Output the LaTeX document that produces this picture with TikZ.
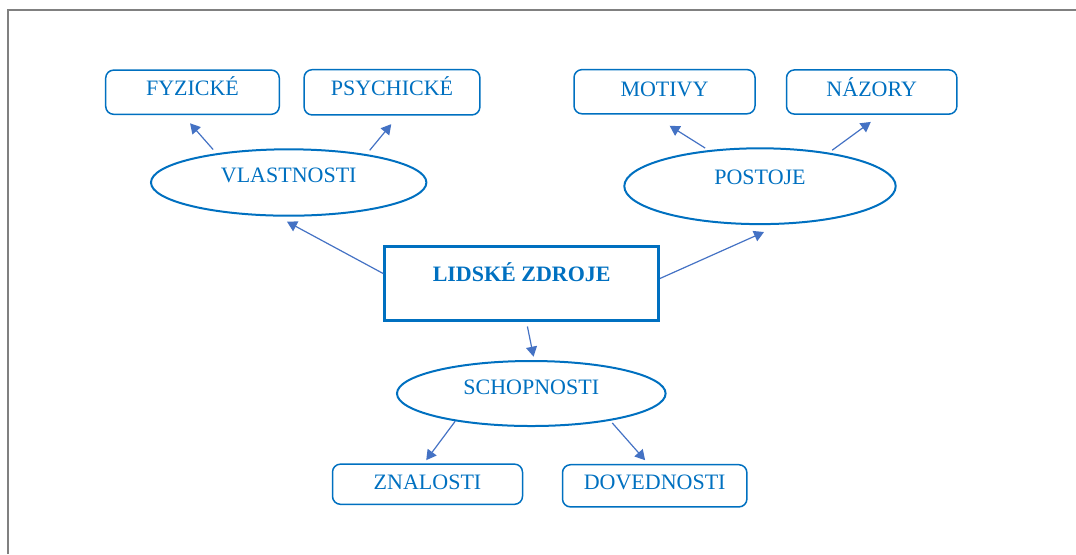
\documentclass[tikz,border=0pt]{standalone}
\usepackage{fontspec}
\setmainfont{Liberation Serif}
\usepackage{tikz}
\usetikzlibrary{arrows.meta,shapes}
\definecolor{zdrojblue}{RGB}{0,112,192}
\definecolor{arrowblue}{RGB}{68,114,196}
\definecolor{framegray}{RGB}{128,128,128}
\tikzstyle{box}=[rectangle,rounded corners=4pt,draw=zdrojblue,line width=0.75pt,text=zdrojblue,inner sep=0pt,text height=7.3pt,font=\fontsize{11}{13}\selectfont]
\tikzstyle{oval}=[ellipse,draw=zdrojblue,line width=1pt,text=zdrojblue,inner sep=0pt,text height=7.3pt,font=\fontsize{11}{13}\selectfont]
\tikzstyle{mainbox}=[rectangle,draw=zdrojblue,line width=1.5pt,text=zdrojblue,inner sep=0pt,text height=7.3pt,font=\fontsize{11}{13}\selectfont\bfseries]
\tikzstyle{edge} = [draw,arrowblue,line width=0.6pt,-{Triangle[length=5pt,width=5.5pt]}]

\begin{document}
\begin{tikzpicture}[x=0.5pt,y=-0.5pt]

\useasboundingbox (0,0) rectangle (1076,554);

% frame
\draw[framegray,line width=1pt] (8,554) -- (8,10) -- (1076,10);

% boxes
    \foreach \pos/ \name/\w/\h/\d/\txt in {{(192.5,92.2)/fyz/86.8/22.1/4.2/FYZICKÉ}, {(392,92.3)/psy/87.9/22.6/4/PSYCHICKÉ}, {(664.5,91.7)/mot/90.5/22.1/2.5/MOTIVY}, {(871.7,92)/naz/85.2/22.1/2.8/NÁZORY}, {(427.5,484.2)/zna/95/20.1/2/ZNALOSTI}, {(654.7,485.8)/dov/92.2/21.1/3.3/DOVEDNOSTI}}
    	\node[box,minimum width=\w pt,minimum height=\h pt,text depth=\d pt] (\name) at \pos {\txt};

% ovals
    \foreach \pos/ \name/\w/\h/\d/\txt in {{(288.7,182.5)/vla/137.7/33.2/7.2/VLASTNOSTI}, {(760,186.2)/pos/135.7/37.9/9/POSTOJE}, {(531.3,393.5)/sch/134.3/32.5/6.5/SCHOPNOSTI}}
    	\node[oval,minimum width=\w pt,minimum height=\h pt,text depth=\d pt] (\name) at \pos {\txt};

% centre
   \node[mainbox,minimum width=136.8pt,minimum height=36.8pt,text depth=9.6pt] (lz) at (521.7,283.3) {LIDSKÉ ZDROJE};

    % arrows
    \foreach \source/ \dest/\a/\b in {lz.176/vla.-108/0/5.3, lz.2/pos.-62/0/9, lz.-83/sch.85/2.5/1.7, vla.158/fyz.-113/2.5/5.5, vla.20/psy.-75/2.5/5.5, pos.145/mot.-119/2/10.5, pos.26/naz.-69/2/6, sch.-160/zna.100/0/2, sch.-19/dov.106/1.5/2.5}
        \path[edge,shorten <=\a pt,shorten >=\b pt] (\source) -- (\dest);

\end{tikzpicture}
\end{document}
